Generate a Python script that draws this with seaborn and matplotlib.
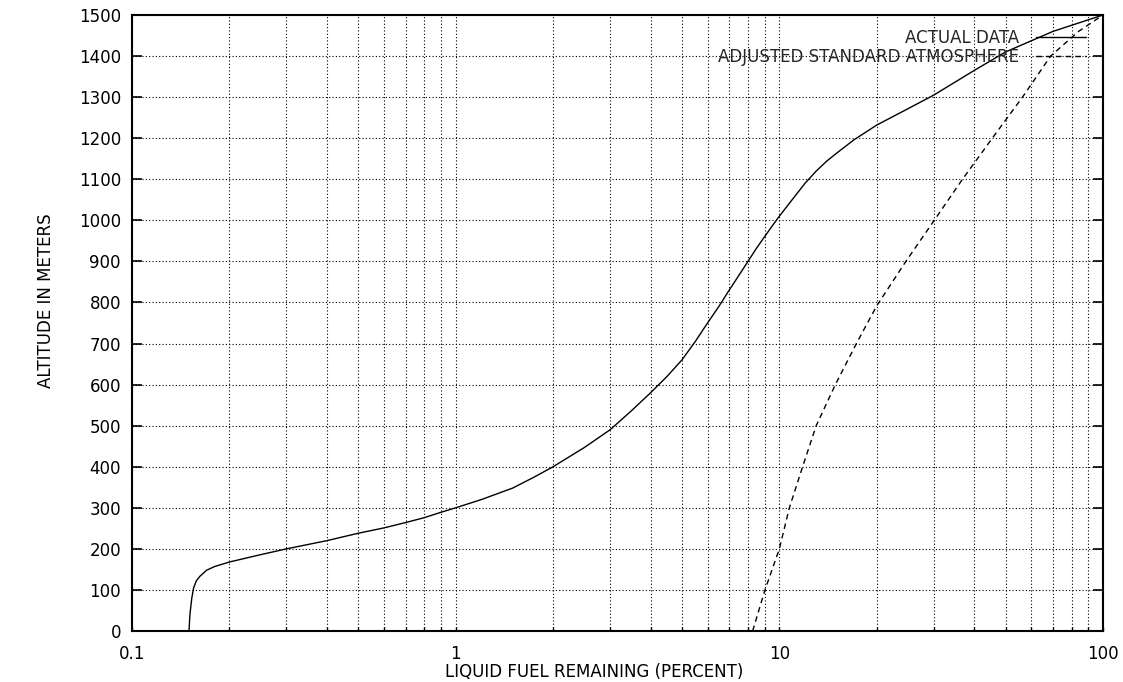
import numpy as np
import pandas as pd
import matplotlib
matplotlib.use("Agg")
import matplotlib.pyplot as plt
import seaborn as sns
from matplotlib.ticker import FixedLocator, FixedFormatter, LogLocator, NullFormatter

# --- data ---
actual_fuel = [0.150, 0.151, 0.153, 0.155, 0.158, 0.162, 0.17, 0.18, 0.2, 0.25, 0.3,
               0.4, 0.5, 0.6, 0.7, 0.8, 0.9, 1.0, 1.2, 1.5, 1.75, 2, 2.5, 3, 3.5, 4, 4.5,
               5, 5.5, 6, 6.5, 7, 7.5, 8, 8.5, 9, 9.5, 10, 11, 12, 13, 14, 15, 17, 20,
               25, 30, 40, 50, 70, 100]
actual_alt = [0, 40, 80, 105, 122, 133, 148, 157, 168, 186, 200,
              220, 238, 251, 264, 276, 289, 300, 320, 348, 375, 400, 447, 490, 537, 580, 620,
              660, 705, 750, 790, 830, 866, 900, 932, 960, 986, 1010, 1052, 1090, 1120, 1144, 1163, 1196, 1232,
              1272, 1305, 1365, 1410, 1460, 1500]

std_fuel = [8.27, 9.03, 10.0, 10.74, 11.8, 13.0, 14.9, 17.3, 20.0, 24.6, 30.1, 36.8,
            45.5, 56.4, 68.9, 84.0, 100]
std_alt = [0, 100, 200, 300, 400, 500, 600, 700, 792, 900, 1000, 1100,
           1200, 1300, 1400, 1460, 1500]

x_ticks = [0.1, 1, 10, 100]
x_tick_labels = ["0.1", "1", "10", "100"]
y_ticks = list(range(0, 1501, 100))

labels = ["ACTUAL DATA", "ADJUSTED STANDARD ATMOSPHERE"]

sns.set_style("white")
plt.rcParams['font.family'] = ['DejaVu Sans']

FS = 12

fig = plt.figure(figsize=(11.23, 6.82), dpi=100)
ax = fig.add_axes([132 / 1123, 1 - 631 / 682, (1103 - 132) / 1123, (631 - 15) / 682])

df_a = pd.DataFrame({"fuel": actual_fuel, "alt": actual_alt})
df_s = pd.DataFrame({"fuel": std_fuel, "alt": std_alt})

sns.lineplot(data=df_a, x="fuel", y="alt", ax=ax, color="black", lw=1.0,
             label=labels[0], sort=False, estimator=None)
sns.lineplot(data=df_s, x="fuel", y="alt", ax=ax, color="black", lw=1.0,
             label=labels[1], sort=False, estimator=None)
ax.lines[1].set_dashes((4, 3))

ax.set_xscale("log")
ax.set_xlim(0.1, 100)
ax.set_ylim(0, 1500)

ax.xaxis.set_major_locator(FixedLocator(x_ticks))
ax.xaxis.set_major_formatter(FixedFormatter(x_tick_labels))
ax.xaxis.set_minor_locator(LogLocator(base=10, subs=np.arange(2, 10)))
ax.xaxis.set_minor_formatter(NullFormatter())
ax.yaxis.set_major_locator(FixedLocator(y_ticks))

ax.grid(True, which="both", axis="x", color="black", linestyle=(0, (1, 2)), lw=0.8)
ax.grid(True, which="major", axis="y", color="black", linestyle=(0, (1, 2)), lw=0.8)

for s in ax.spines.values():
    s.set_color("black")
    s.set_linewidth(1.5)

ax.tick_params(axis="y", which="major", direction="in", length=7, width=1.2,
               left=True, right=True, labelsize=FS, colors="black", pad=8)
ax.tick_params(axis="x", which="both", direction="in", length=3, width=1.0,
               bottom=True, top=False, labelsize=FS, colors="black", pad=10)

ax.set_xlabel("LIQUID FUEL REMAINING (PERCENT)", fontsize=FS, color="black")
ax.set_ylabel("ALTITUDE IN METERS", fontsize=FS, color="black")
ax.xaxis.set_label_coords(0.476, -0.052)
ax.yaxis.set_label_coords(-0.079, 0.537)

leg = ax.legend(loc="upper right", bbox_to_anchor=(0.982, 0.978), frameon=False,
                markerfirst=False, fontsize=FS, handlelength=3.0, handletextpad=1.0,
                labelspacing=0.1, borderpad=0, borderaxespad=0)

fig.savefig("out.png", dpi=100, facecolor="white")
